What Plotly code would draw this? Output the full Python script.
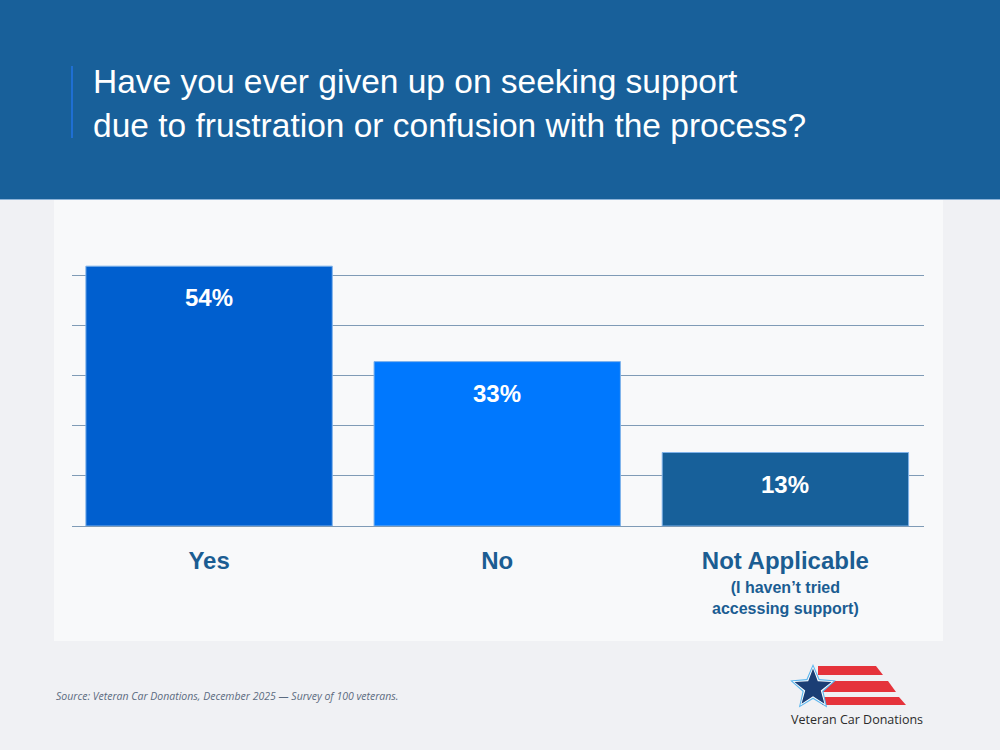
import math
import plotly.graph_objects as go

# ---- data ----
categories = ["Yes", "No", "Not Applicable"]
values = [54, 33, 13]
value_labels = ["54%", "33%", "13%"]
sub_label = "(I haven’t tried<br>accessing support)"
title_text = "Have you ever given up on seeking support<br>due to frustration or confusion with the process?"
source_text = "Source: Veteran Car Donations, December 2025 — Survey of 100 veterans."
brand_text = "Veteran Car Donations"

# ---- style ----
W, H = 1000, 750
PL, PR, PT, PB = 72, 924, 250, 526
Y_MIN = -3.17
PX_PER_UNIT = 4.545
Y_MAX = Y_MIN + (PB - PT) / PX_PER_UNIT
GRID_STEP = 50.2 / PX_PER_UNIT

HEADER = "#18609a"
PAGE_BG = "#f0f1f4"
PANEL = "#f8f9fa"
BAR_COLORS = ["#005fcf", "#0078fe", "#17609a"]
LABEL_COLOR = "#1b5d92"
GRID = "#7f9bb6"


def fx(p):
    return (p - PL) / (PR - PL)


def fy(p):
    return (PB - p) / (PB - PT)


fig = go.Figure()
fig.add_trace(go.Bar(
    x=categories,
    y=[v - Y_MIN for v in values],
    base=Y_MIN,
    width=0.855,
    marker=dict(color=BAR_COLORS, line=dict(color="#7fb2ea", width=1)),
    hoverinfo="skip",
    showlegend=False,
))

shapes = []
# header band
shapes.append(dict(type="rect", xref="paper", yref="paper", x0=fx(-2), x1=fx(W + 2), y0=fy(199), y1=fy(-2),
                   fillcolor=HEADER, line=dict(width=0), layer="below"))
# panel
shapes.append(dict(type="rect", xref="paper", yref="paper", x0=fx(54), x1=fx(943), y0=fy(641), y1=fy(199.5),
                   fillcolor=PANEL, line=dict(width=0), layer="below"))
shapes.append(dict(type="line", xref="paper", yref="paper", x0=fx(-2), x1=fx(W + 2), y0=fy(199.5), y1=fy(199.5),
                   line=dict(color="#8db3d8", width=1), layer="below"))
# title accent line
shapes.append(dict(type="line", xref="paper", yref="paper", x0=fx(72), x1=fx(72), y0=fy(66), y1=fy(138),
                   line=dict(color="#1f6fd3", width=2)))


def poly(pts, color):
    path = "M " + " L ".join(f"{fx(a):.5f},{fy(b):.5f}" for a, b in pts) + " Z"
    return dict(type="path", xref="paper", yref="paper", path=path, fillcolor=color, line=dict(width=0))

# logo stripes
RED = "#e5333b"
shapes.append(poly([(818, 666), (876, 666), (883, 675), (818, 675)], RED))
shapes.append(poly([(822, 681), (888, 681), (896, 692), (822, 692)], RED))
shapes.append(poly([(822, 697), (899, 697), (906, 705), (822, 705)], RED))


def star(cx, cy, R, r, color):
    pts = []
    for i in range(10):
        ang = -math.pi / 2 + i * math.pi / 5
        rad = R if i % 2 == 0 else r
        pts.append((cx + rad * math.cos(ang), cy + rad * math.sin(ang)))
    return poly(pts, color)

shapes.append(star(813, 688, 24, 11, "#5cb6ee"))
shapes.append(star(813, 688, 21.5, 9.6, "#ffffff"))
shapes.append(star(813, 688, 19.5, 8.2, "#1b3e75"))

annotations = []
for c, v, t in zip(categories, values, value_labels):
    annotations.append(dict(x=c, y=v, xref="x", yref="y", text=t, showarrow=False,
                            yshift=-31.5, yanchor="middle",
                            font=dict(family="Liberation Sans", size=24, color="white", weight="bold")))
annotations.append(dict(x=categories[2], y=fy(597.5), xref="x", yref="paper", text=sub_label,
                        showarrow=False, yanchor="middle", align="center",
                        font=dict(family="Liberation Sans", size=16, color=LABEL_COLOR, weight="bold")))
annotations.append(dict(x=fx(54), y=fy(696), xref="paper", yref="paper", text=source_text,
                        showarrow=False, xanchor="left", yanchor="middle",
                        font=dict(family="Open Sans", size=10.5, color="#5b6b80", style="italic")))
annotations.append(dict(x=fx(857), y=fy(719), xref="paper", yref="paper", text=brand_text,
                        showarrow=False, xanchor="center", yanchor="middle",
                        font=dict(family="Open Sans", size=12.5, color="#2b2b2b")))

fig.update_layout(
    width=W, height=H,
    margin=dict(l=PL, r=W - PR, t=PT, b=H - PB, pad=0),
    paper_bgcolor=PAGE_BG,
    plot_bgcolor="rgba(0,0,0,0)",
    title=dict(text=title_text, x=93 / W, xref="container", xanchor="left",
               y=1 - 93 / H, yref="container", yanchor="middle",
               font=dict(family="Liberation Sans", size=33.5, color="white")),
    shapes=shapes,
    annotations=annotations,
    xaxis=dict(range=[-0.4757, 2.481], showgrid=False, zeroline=False,
               showline=True, linecolor=GRID, linewidth=1,
               ticks="", ticklabelstandoff=13,
               tickfont=dict(family="Liberation Sans", size=24, color=LABEL_COLOR, weight="bold"),
               fixedrange=True),
    yaxis=dict(range=[Y_MIN, Y_MAX], tick0=Y_MIN, dtick=GRID_STEP, showgrid=True,
               gridcolor=GRID, gridwidth=1, zeroline=False, showticklabels=False,
               showline=False, fixedrange=True),
    bargap=0.15,
)

fig.write_html("out.html", config={"displayModeBar": False},
               post_script="document.body.style.margin='0';document.body.style.overflow='hidden';")
